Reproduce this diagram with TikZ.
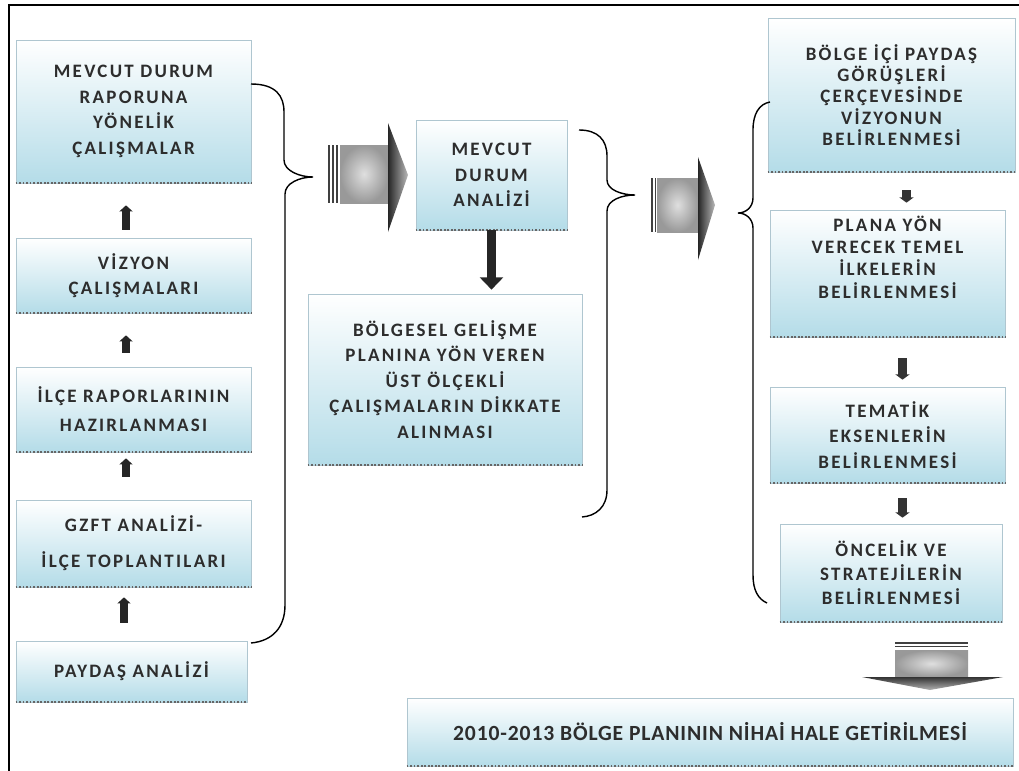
\documentclass[tikz,border=0pt]{standalone}
\usepackage{fontspec}
\newfontfamily\boxfont{Carlito}[LetterSpace=12]
\newfontfamily\planfont{Carlito}[LetterSpace=4]
\usetikzlibrary{arrows.meta}
\definecolor{boxblue}{RGB}{180,220,232}
\definecolor{boxedge}{RGB}{175,198,208}
\definecolor{txtgray}{RGB}{45,45,45}
\tikzset{
  stepbox/.style={draw=boxedge, top color=white, bottom color=boxblue, align=center,
    text=txtgray, inner sep=2pt, font=\boxfont\bfseries\fontsize{10.8}{14.5}\selectfont},
  bottomdots/.style={densely dotted, line width=1pt, draw=black!60},
  upstep/.style={-{Triangle[length=3.5pt,width=7.5pt]}, line width=4pt, draw=black!85},
  downstep/.style={-{Triangle[length=3pt,width=8pt]}, line width=5.5pt, draw=black!80},
  bracepath/.style={line width=0.8pt, black},
}
\begin{document}
\begin{tikzpicture}[x=0.02cm, y=-0.02cm]
\useasboundingbox (0,0) rectangle (1019,771);
% frame
\draw[line width=1.1pt] (9,771) -- (9,5) -- (1019,5);

% left column
\node[stepbox, minimum width=4.7cm, minimum height=2.86cm] (l1) at (133.5,111.5) {MEVCUT DURUM\\RAPORUNA\\YÖNELİK\\ÇALIŞMALAR};
\node[stepbox, minimum width=4.7cm, minimum height=1.5cm] (l2) at (133.5,275.5) {VİZYON\\ÇALIŞMALARI};
\node[stepbox, minimum width=4.7cm, minimum height=1.7cm] (l3) at (133.5,409.5) {İLÇE RAPORLARININ\\[2pt]HAZIRLANMASI};
\node[stepbox, minimum width=4.7cm, minimum height=1.74cm] (l4) at (133.5,543.5) {GZFT ANALİZİ-\\[6pt]İLÇE TOPLANTILARI};
\node[stepbox, minimum width=4.62cm, minimum height=1.22cm] (l5) at (131.5,671.5) {PAYDAŞ ANALİZİ};

% middle
\node[stepbox, minimum width=3.02cm, minimum height=2.2cm] (m1) at (491.5,175) {MEVCUT\\DURUM\\ANALİZİ};
\node[stepbox, minimum width=5.48cm, minimum height=3.42cm] (m2) at (445,379.5) {BÖLGESEL GELİŞME\\PLANINA YÖN VEREN\\ÜST ÖLÇEKLİ\\ÇALIŞMALARIN DİKKATE\\ALINMASI};

% right column
\node[stepbox, minimum width=4.94cm, minimum height=3.08cm, font=\boxfont\bfseries\fontsize{10.8}{12.2}\selectfont] (r1) at (891.5,95) {BÖLGE İÇİ PAYDAŞ\\GÖRÜŞLERİ\\ÇERÇEVESİNDE\\VİZYONUN\\BELİRLENMESİ};
\node[stepbox, minimum width=4.7cm, minimum height=2.54cm, font=\boxfont\bfseries\fontsize{10.8}{12.6}\selectfont] (r2) at (887.5,273.5) {PLANA YÖN\\VERECEK TEMEL\\İLKELERİN\\BELİRLENMESİ\\[6pt]};
\node[stepbox, minimum width=4.7cm, minimum height=1.92cm] (r3) at (887.5,435) {TEMATİK\\EKSENLERİN\\BELİRLENMESİ};
\node[stepbox, minimum width=4.44cm, minimum height=1.96cm, font=\boxfont\bfseries\fontsize{10.8}{13.6}\selectfont] (r4) at (891,573) {ÖNCELİK VE\\STRATEJİLERİN\\BELİRLENMESİ};

% final box
\node[stepbox, minimum width=12.12cm, minimum height=1.36cm, font=\planfont\bfseries\fontsize{12.3}{14}\selectfont] (fin) at (710,732) {2010-2013 BÖLGE PLANININ NİHAİ HALE GETİRİLMESİ};

\foreach \n in {l1,l2,l3,l4,l5,m1,m2,r1,r2,r3,r4,fin}
  \draw[bottomdots] (\n.south west) -- (\n.south east);

% small arrows
\foreach \a/\b/\s/\e in {l2/l1/0.16/0.44, l3/l2/0.28/0.44, l4/l3/0.46/0.12, l5/l4/0.36/0.2}
  \draw[upstep, shorten <=\s cm, shorten >=\e cm] ([xshift=-0.15cm]\a.north) -- ([xshift=-0.15cm]\a.north |- \b.south);
\foreach \a/\b/\s/\e in {r1/r2/0.36/0.14, r2/r3/0.42/0.14, r3/r4/0.3/0.12}
  \draw[downstep, shorten <=\s cm, shorten >=\e cm] ([xshift=0.3cm]\a.south) -- ([xshift=0.3cm]\a.south |- \b.north);
\draw[-{Triangle[length=7pt,width=13pt]}, line width=5.5pt, black!85, shorten >=0.08cm] (m1.south) -- (m1.south |- m2.north);

% braces
\draw[bracepath] (251,84) .. controls (276,84) and (284,96) .. (284,112) -- (284,160)
  .. controls (284,171) and (300,177) .. (313,177) .. controls (300,177) and (285,183) .. (285,194)
  -- (285,605) .. controls (285,628) and (272,641) .. (251,643);
\draw[bracepath] (579,130) .. controls (598,130) and (607,140) .. (607,156) -- (607,180)
  .. controls (607,190) and (622,195) .. (635,195) .. controls (622,195) and (607,200) .. (607,211)
  -- (607,490) .. controls (607,507) and (596,516) .. (582,517);
\draw[bracepath] (770,102) .. controls (759,104) and (753,114) .. (753,130) -- (753,198)
  .. controls (753,207) and (746,213) .. (738,213) .. controls (746,213) and (753,219) .. (753,228)
  -- (753,575) .. controls (753,590) and (758,599) .. (767,603);

% big block arrows
\foreach \x in {329,333,337} \draw[line width=1.1pt, black!75] (\x,145) -- (\x,203);
\shade[inner color=gray!25, outer color=gray!80] (340,145) rectangle (388,203);
\shade[left color=black!85, right color=gray!55] (388,123) -- (408,175) -- (388,232) -- cycle;

\foreach \x in {652,655.5} \draw[line width=1.1pt, black!75] (\x,178) -- (\x,232);
\shade[inner color=gray!25, outer color=gray!80] (657,178) rectangle (698,232);
\shade[left color=black!85, right color=gray!55] (698,157) -- (715,205) -- (698,260) -- cycle;

\foreach \y in {643,646.5} \draw[line width=1.1pt, black!75] (895,\y) -- (968,\y);
\shade[inner color=gray!25, outer color=gray!80] (895,650) rectangle (968,677);
\shade[top color=black!80, bottom color=gray!60] (862,677) -- (1003,677) -- (930,690) -- cycle;
\end{tikzpicture}
\end{document}
